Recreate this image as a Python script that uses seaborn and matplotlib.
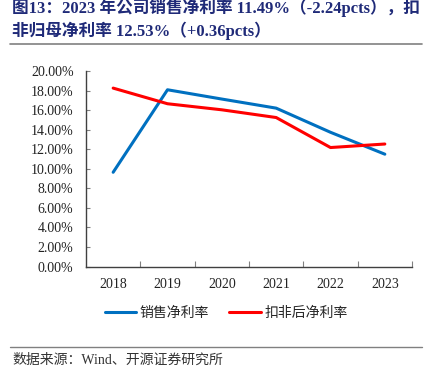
import pandas as pd
import matplotlib
matplotlib.use("Agg")
import matplotlib.pyplot as plt
import seaborn as sns
from matplotlib.ticker import FuncFormatter, FixedLocator
from matplotlib.lines import Line2D

sns.set_theme(style="white")
plt.rcParams["font.family"] = ["Liberation Serif", "Noto Sans CJK SC", "DejaVu Sans"]

years = ["2018", "2019", "2020", "2021", "2022", "2023"]
net_margin = [9.64, 18.08, 17.13, 16.20, 13.73, 11.49]
deducted_margin = [18.25, 16.65, 16.03, 15.24, 12.17, 12.53]
series_names = ["销售净利率", "扣非后净利率"]
colors = ["#0070C0", "#FF0000"]

title_line1 = "图13：2023 年公司销售净利率 11.49%（-2.24pcts），扣"
title_line2 = "非归母净利率 12.53%（+0.36pcts）"
source_text = "数据来源：Wind、开源证券研究所"

df = pd.DataFrame({
    "year": years * 2,
    "value": net_margin + deducted_margin,
    "series": [series_names[0]] * len(years) + [series_names[1]] * len(years),
})

fig = plt.figure(figsize=(4.32, 3.73), dpi=100)
ax = fig.add_axes([86 / 432, 1 - 266.5 / 373, (412 - 86) / 432, (266.5 - 71) / 373])

sns.lineplot(data=df, x="year", y="value", hue="series", palette=colors,
             linewidth=2.2, ax=ax, legend=False, sort=False)

ax.set_xlim(-0.5, len(years) - 0.5)
ax.set_ylim(0, 20)
ax.set_yticks([i * 2 for i in range(11)])
ax.yaxis.set_major_formatter(FuncFormatter(lambda v, p: f"{v:.2f}%"))
ax.xaxis.set_minor_locator(FixedLocator([i + 0.5 for i in range(len(years))]))
ax.set_xlabel("")
ax.set_ylabel("")

for side in ["top", "right"]:
    ax.spines[side].set_visible(False)
for side in ["left", "bottom"]:
    ax.spines[side].set_color("#404040")
    ax.spines[side].set_linewidth(1.0)

ax.tick_params(axis="y", which="major", direction="in", length=3, width=0.8,
               color="#808080", labelsize=10, pad=9, labelcolor="#222222", left=True)
ax.tick_params(axis="x", which="major", length=0, labelsize=10, pad=8, labelcolor="#222222")
ax.tick_params(axis="x", which="minor", direction="in", length=4, width=0.8,
               color="#808080", bottom=True)
ax.grid(False)

handles = [Line2D([0], [0], color=c, lw=2.2) for c in colors]
fig.legend(handles, series_names, loc="center", bbox_to_anchor=(226 / 432, 1 - 313 / 373),
           ncol=2, frameon=False, handlelength=2.3, handletextpad=0.25,
           columnspacing=1.4, prop={"family": ["Noto Sans CJK SC"], "size": 10})

title_color = "#1F2A78"
fig.text(12 / 432, 1 - 8 / 373, title_line1, ha="left", va="center", fontsize=12,
         fontweight="bold", color=title_color)
fig.text(12 / 432, 1 - 31 / 373, title_line2, ha="left", va="center", fontsize=12,
         fontweight="bold", color=title_color)
fig.add_artist(Line2D([10 / 432, 422 / 432], [1 - 43.5 / 373] * 2, color="#808080", lw=1.2))
fig.add_artist(Line2D([10 / 432, 422 / 432], [1 - 347 / 373] * 2, color="#808080", lw=1.0))
fig.text(12 / 432, 1 - 360 / 373, source_text, ha="left", va="center", fontsize=10,
         color="#333333")

fig.savefig("out.png", dpi=100)
